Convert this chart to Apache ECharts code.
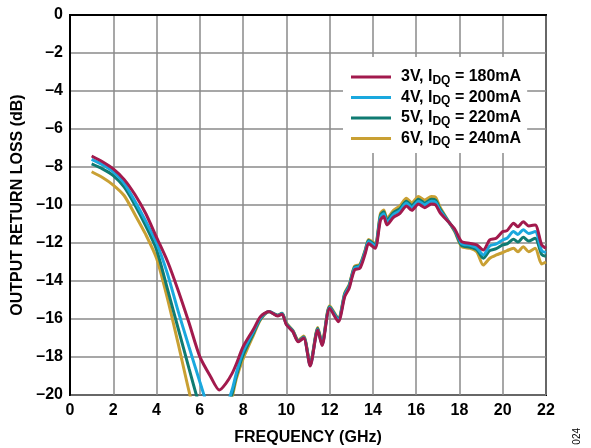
<!DOCTYPE html>
<html><head><meta charset="utf-8">
<script src="https://cdn.jsdelivr.net/npm/echarts@6/dist/echarts.min.js"></script>
<style>html,body{margin:0;padding:0;background:#fff}#c{width:591px;height:448px}</style>
</head><body><div id="c"></div>
<script>
const freq = [1.0,1.5,2.0,2.5,3.0,3.5,4.0,4.5,5.0,5.5,6.0,6.5,6.9,7.2,7.5,7.7,8.0,8.5,8.8,9.2,9.6,9.8,10.0,10.3,10.55,10.8,11.1,11.45,11.65,12.0,12.4,12.7,12.9,13.15,13.4,13.65,13.8,14.1,14.35,14.5,14.65,14.95,15.25,15.55,15.8,16.1,16.4,16.7,16.9,17.1,17.55,17.8,18.1,18.5,18.8,19.1,19.4,19.7,20.0,20.2,20.5,20.7,20.95,21.2,21.5,21.8,22.0];
const v3 = [-7.42,-7.72,-8.1,-8.65,-9.45,-10.45,-11.7,-12.95,-14.5,-16.2,-17.98,-19.04,-19.74,-19.4,-18.85,-18.33,-17.46,-16.5,-15.88,-15.6,-15.84,-15.75,-16.3,-16.67,-17.2,-17.0,-18.47,-16.58,-17.4,-15.44,-16.14,-14.82,-14.39,-13.42,-13.33,-12.54,-12.02,-12.28,-10.79,-10.61,-11.05,-10.65,-10.44,-10.05,-10.28,-9.95,-10.14,-9.95,-10.0,-10.4,-10.96,-11.3,-11.93,-12.02,-12.1,-12.37,-11.84,-11.75,-11.4,-11.35,-10.96,-11.14,-10.88,-11.1,-11.05,-12.1,-12.28];
const v4 = [-7.6,-7.88,-8.25,-8.85,-9.8,-10.85,-12.0,-13.6,-15.6,-17.47,-19.3,-21.0,-21.5,-20.7,-19.7,-18.8,-17.7,-16.6,-15.95,-15.6,-15.82,-15.72,-16.28,-16.65,-17.18,-16.98,-18.45,-16.55,-17.35,-15.4,-16.05,-14.72,-14.3,-13.33,-13.22,-12.44,-11.92,-12.15,-10.64,-10.46,-10.9,-10.5,-10.29,-9.9,-10.13,-9.8,-9.99,-9.8,-9.85,-10.3,-10.96,-11.35,-12.03,-12.12,-12.25,-12.63,-12.15,-12.05,-11.84,-11.75,-11.4,-11.55,-11.3,-11.5,-11.4,-12.4,-12.5];
const v5 = [-7.84,-8.1,-8.45,-9.05,-10.0,-11.1,-12.35,-14.4,-16.5,-18.6,-20.6,-22.0,-22.5,-21.3,-19.9,-18.95,-17.9,-16.7,-16.0,-15.6,-15.8,-15.7,-16.25,-16.62,-17.15,-16.95,-18.4,-16.5,-17.3,-15.35,-16.0,-14.67,-14.25,-13.27,-13.17,-12.39,-11.87,-12.08,-10.54,-10.36,-10.8,-10.4,-10.19,-9.8,-10.03,-9.7,-9.89,-9.7,-9.75,-10.2,-10.96,-11.4,-12.13,-12.22,-12.35,-12.8,-12.4,-12.3,-12.1,-12.05,-11.8,-11.95,-11.7,-11.9,-11.75,-12.6,-12.7];
const v6 = [-8.25,-8.55,-8.95,-9.5,-10.5,-11.55,-12.8,-14.9,-17.3,-19.8,-22.0,-23.0,-23.0,-21.5,-20.1,-19.1,-18.1,-16.8,-16.05,-15.62,-15.8,-15.7,-16.2,-16.6,-17.1,-16.9,-18.35,-16.45,-17.25,-15.3,-15.95,-14.62,-14.2,-13.22,-13.12,-12.34,-11.82,-12.02,-10.44,-10.26,-10.7,-10.28,-10.05,-9.65,-9.88,-9.55,-9.74,-9.55,-9.6,-10.1,-10.96,-11.45,-12.2,-12.28,-12.46,-13.16,-12.8,-12.63,-12.5,-12.4,-12.28,-12.46,-12.2,-12.46,-12.28,-13.1,-13.0];
const names = ['3V','4V','5V','6V'];
const currents = ['180mA','200mA','220mA','240mA'];
const colors = ['#A21A4D','#1AA8DE','#0F7B72','#C9A033'];
const xTicks = [0,2,4,6,8,10,12,14,16,18,20,22];
const yTicks = [0,-2,-4,-6,-8,-10,-12,-14,-16,-18,-20];

const seriesVals = [v3,v4,v5,v6];
const labelOf = i => names[i] + ', I' + 'DQ' + ' = ' + currents[i];
const series = [];
for (let i = 3; i >= 0; i--) {
  series.push({
    name: labelOf(i), type: 'line', showSymbol: false, smooth: 0.25,
    data: freq.map((f, k) => [f, seriesVals[i][k]]),
    lineStyle: {color: colors[i], width: 3}, itemStyle: {color: colors[i]},
    z: 10 - i, clip: true
  });
}
const chart = echarts.init(document.getElementById('c'));
const font = '"Liberation Sans", Arial, sans-serif';
chart.setOption({
  animation: false,
  grid: {left: 70, right: 45, top: 15, bottom: 53, show: true, borderColor: '#000', borderWidth: 2,
    backgroundColor: 'transparent', containLabel: false, outerBoundsMode: 'none'},
  xAxis: {
    type: 'value', min: 0, max: 22, interval: 2,
    name: 'FREQUENCY (GHz)', nameLocation: 'middle', nameGap: 35,
    nameTextStyle: {fontFamily: font, fontWeight: 'bold', fontSize: 16, color: '#000'},
    axisLine: {show: true, lineStyle: {color: '#000', width: 2}}, axisTick: {show: false},
    axisLabel: {fontFamily: font, fontWeight: 'bold', fontSize: 16, color: '#000', margin: 8,
      formatter: v => xTicks.includes(v) ? String(v) : ''},
    splitLine: {show: true, lineStyle: {color: '#8a8a8a', width: 1.5}}
  },
  yAxis: {
    type: 'value', min: -20, max: 0, interval: 2,
    name: 'OUTPUT RETURN LOSS (dB)', nameLocation: 'middle', nameGap: 44,
    nameTextStyle: {fontFamily: font, fontWeight: 'bold', fontSize: 16, color: '#000'},
    axisLine: {show: true, lineStyle: {color: '#000', width: 2}}, axisTick: {show: false},
    axisLabel: {fontFamily: font, fontWeight: 'bold', fontSize: 16, color: '#000', margin: 7,
      formatter: v => yTicks.includes(v) ? (v < 0 ? '\u2013' + Math.abs(v) : String(v)) : ''},
    splitLine: {show: true, lineStyle: {color: '#8a8a8a', width: 1.5}}
  },
  legend: {
    left: 343, top: 57, orient: 'vertical', icon: 'rect', itemWidth: 40, itemHeight: 3, itemGap: 3,
    backgroundColor: '#fff', padding: [12, 6, 5, 8], borderWidth: 0,
    data: [0,1,2,3].map(labelOf),
    formatter: name => {
      const i = [0,1,2,3].find(k => labelOf(k) === name);
      return '{a|' + names[i] + ', I}{b|DQ}{a| = ' + currents[i] + '}';
    },
    textStyle: {
      padding: [0, 0, 0, 5],
      rich: {
        a: {fontFamily: font, fontWeight: 'bold', fontSize: 16, color: '#000', lineHeight: 19},
        b: {fontFamily: font, fontWeight: 'bold', fontSize: 12, color: '#000', lineHeight: 10, verticalAlign: 'bottom'}
      }
    }
  },
  graphic: [{type: 'text', left: 572, top: 428, rotation: Math.PI / 2,
    style: {text: '024', fontFamily: font, fontSize: 10, fill: '#000'}}],
  series: series
});
</script></body></html>
